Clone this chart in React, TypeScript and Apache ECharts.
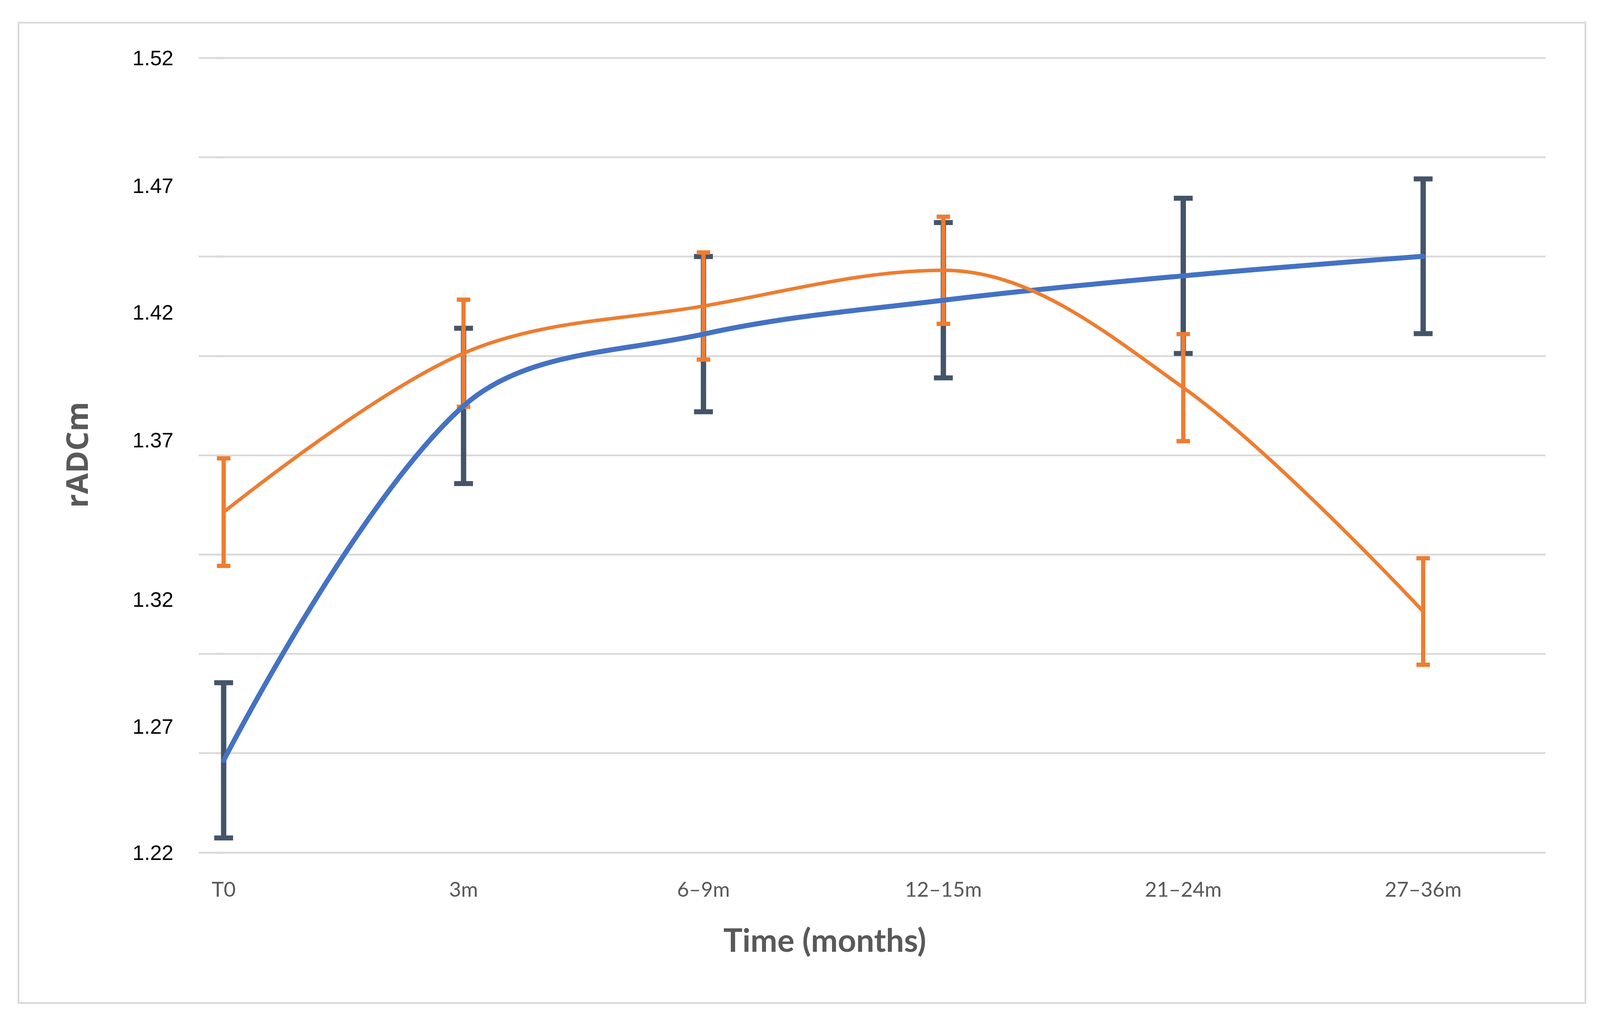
import React, { useEffect, useRef } from 'react';
import * as echarts from 'echarts';

const categories = ['T0', '3m', '6–9m', '12–15m', '21–24m', '27–36m'];
const blueMean = [1.2548, 1.3886, 1.4157, 1.4285, 1.4377, 1.4451];
const blueErr = [0.0293, 0.0293, 0.0293, 0.0293, 0.0293, 0.0292];
const orangeMean = [1.3485, 1.4085, 1.4263, 1.4398, 1.3955, 1.311];
const orangeErr = [0.0203, 0.0202, 0.0202, 0.0202, 0.0202, 0.0201];
const yTickLabels = ['1.22', '1.27', '1.32', '1.37', '1.42', '1.47', '1.52'];
const yTickLabelValues = [1.22, 1.2676, 1.3156, 1.3758, 1.424, 1.4718, 1.52];
const yMin = 1.22;
const yMax = 1.52;
const yGridStep = 0.0375;
const xMin = -0.104;
const xMax = 5.51;

const REF_W = 4493;
const REF_H = 2608;

function errorBarSeries(mean: number[], err: number[], color: string, vWidth: number, capWidth: number, capThick: number) {
  return {
    type: 'custom',
    xAxisIndex: 0,
    yAxisIndex: 0,
    data: mean.map((m, i) => [i, m - err[i], m + err[i]]),
    encode: { x: 0, y: [1, 2] },
    renderItem: (params: any, api: any) => {
      const x = api.value(0);
      const lo = api.coord([x, api.value(1)]);
      const hi = api.coord([x, api.value(2)]);
      const hw = capWidth / 2;
      return {
        type: 'group',
        children: [
          { type: 'line', shape: { x1: hi[0], y1: hi[1], x2: lo[0], y2: lo[1] }, style: { stroke: color, lineWidth: vWidth } },
          { type: 'line', shape: { x1: hi[0] - hw, y1: hi[1], x2: hi[0] + hw, y2: hi[1] }, style: { stroke: color, lineWidth: capThick } },
          { type: 'line', shape: { x1: lo[0] - hw, y1: lo[1], x2: lo[0] + hw, y2: lo[1] }, style: { stroke: color, lineWidth: capThick } },
        ],
      };
    },
  };
}

export default function App() {
  const ref = useRef<HTMLDivElement>(null);
  useEffect(() => {
    if (!ref.current) return;
    const chart = echarts.init(ref.current, null, { renderer: 'svg' });
    const w = chart.getWidth();
    const h = chart.getHeight();
    const sx = w / REF_W;
    const sy = h / REF_H;
    const s = Math.min(sx, sy);
    const X = (v: number) => v * sx;
    const Y = (v: number) => v * sy;
    const S = (v: number) => v * s;
    const option: any = {
      animation: false,
      backgroundColor: '#ffffff',
      grid: { left: X(558), right: w - X(4340), top: Y(148), bottom: h - Y(2182), containLabel: false, outerBoundsMode: 'none' },
      xAxis: {
        type: 'value',
        min: xMin,
        max: xMax,
        axisLine: { show: false },
        axisTick: { show: false },
        splitLine: { show: false },
        axisLabel: {
          customValues: categories.map((_, i) => i),
          formatter: (v: number) => categories[Math.round(v)] ?? '',
          color: '#595959',
          fontFamily: 'Lato',
          fontSize: S(58),
          margin: Y(66),
        },
      },
      yAxis: [
        {
          type: 'value',
          min: yMin,
          max: yMax,
          interval: yGridStep,
          offset: X(246),
          axisLine: { show: false },
          axisTick: { show: true, length: X(21), lineStyle: { color: '#d9d9d9', width: S(6) } },
          axisLabel: { show: false },
          splitLine: { show: true, lineStyle: { color: '#d9d9d9', width: S(5) } },
        },
        {
          type: 'value',
          min: yMin,
          max: yMax,
          position: 'left',
          axisLine: { show: false },
          axisTick: { show: false },
          splitLine: { show: false },
          axisLabel: {
            customValues: yTickLabelValues,
            formatter: (v: number) => {
              let best = 0;
              yTickLabelValues.forEach((t, i) => {
                if (Math.abs(t - v) < Math.abs(yTickLabelValues[best] - v)) best = i;
              });
              return yTickLabels[best];
            },
            color: '#000000',
            fontFamily: 'Liberation Sans',
            fontSize: S(59),
            margin: X(71),
          },
        },
      ],
      graphic: [
        {
          type: 'rect',
          shape: { x: X(52), y: Y(58), width: X(4400), height: Y(2509) },
          style: { fill: 'none', stroke: '#d9d9d9', lineWidth: S(5) },
          silent: true,
        },
        {
          type: 'text',
          x: X(2316),
          y: Y(2404),
          style: {
            text: 'Time (months)',
            fill: '#595959',
            font: `bold ${S(90)}px Lato`,
            textAlign: 'center',
            textVerticalAlign: 'middle',
          },
        },
        {
          type: 'text',
          x: X(214),
          y: Y(1164),
          rotation: Math.PI / 2,
          style: {
            text: 'rADCm',
            fill: '#595959',
            font: `bold ${S(85)}px "Open Sans"`,
            textAlign: 'center',
            textVerticalAlign: 'middle',
          },
        },
      ],
      series: [
        errorBarSeries(blueMean, blueErr, '#44546A', S(15), X(53), S(14)),
        errorBarSeries(orangeMean, orangeErr, '#ED7D31', S(12), X(38), S(12)),
        {
          type: 'line',
          data: blueMean.map((v, i) => [i, v]),
          smooth: 0.35,
          showSymbol: false,
          symbol: 'none',
          lineStyle: { color: '#4472C4', width: S(14), cap: 'round' },
        },
        {
          type: 'line',
          data: orangeMean.map((v, i) => [i, v]),
          smooth: 0.35,
          showSymbol: false,
          symbol: 'none',
          lineStyle: { color: '#ED7D31', width: S(10), cap: 'round' },
        },
      ],
    };
    chart.setOption(option);
    return () => chart.dispose();
  }, []);
  return <div ref={ref} style={{ position: 'fixed', left: 0, top: 0, width: '100vw', height: '100vh' }} />;
}
